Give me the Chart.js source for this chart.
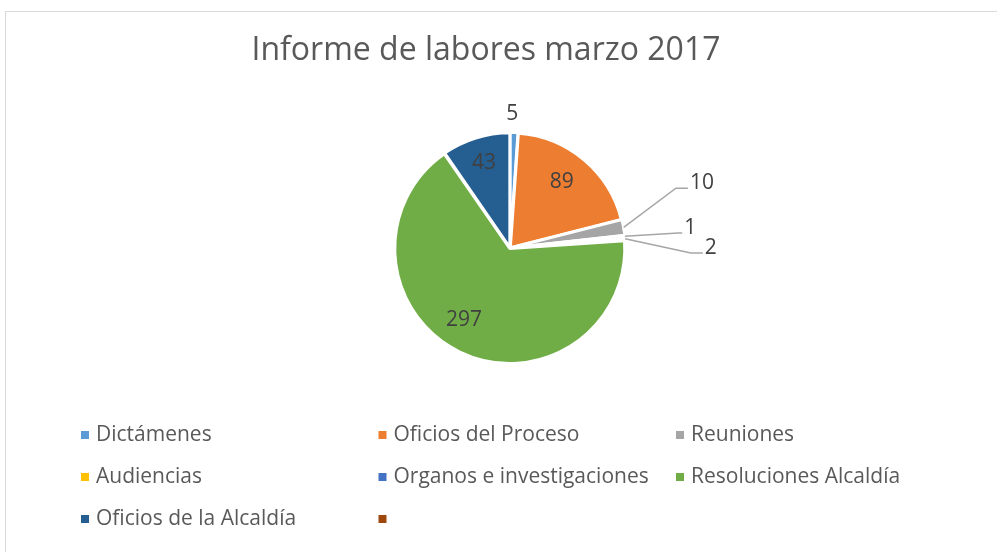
<!DOCTYPE html>
<html>
<head>
<meta charset="utf-8">
<script src="https://cdn.jsdelivr.net/npm/chart.js@4.4.1/dist/chart.umd.min.js"></script>
<style>
    html, body { margin: 0; padding: 0; background: #fff; }
    #frame { position: absolute; left: 5px; top: 11px; width: 1100px; height: 700px; border: 1px solid #d9d9d9; }
    #wrap { position: absolute; left: 0; top: 0; width: 997px; height: 552px; }
</style>
</head>
<body>
<div id="frame"></div>
<div id="wrap"><canvas id="laboresChart" width="997" height="552"></canvas></div>
<script>
const titleText = 'Informe de labores marzo 2017';
const categories = ['Dictámenes', 'Oficios del Proceso', 'Reuniones', 'Audiencias', 'Organos e investigaciones', 'Resoluciones Alcaldía', 'Oficios de la Alcaldía', ''];
const values = [5, 89, 10, 1, 2, 297, 43, null];
const colors = ['#5B9BD5', '#ED7D31', '#A5A5A5', '#FFC000', '#4472C4', '#70AD47', '#255E91', '#9E480E'];

// where each value label sits (angle in degrees from top, distance as fraction of radius)
const labelPlace = [
    { angle: 1, dist: 1.17 },
    { angle: 38.2, dist: 0.73 },
    { angle: 70.2, dist: 1.54, leader: true, tail: 12 },
    { angle: 84.9, dist: 1.475, leader: true, tail: 4 },
    { angle: 91.6, dist: 1.58, leader: true, tail: 12 },
    { angle: 212.6, dist: 0.745 },
    { angle: 343, dist: 0.775 },
    null
];

const FONT = "'Open Sans', sans-serif";
const TEXT = '#595959';

const extrasPlugin = {
    id: 'extras',
    afterDatasetsDraw(chart) {
        const ctx = chart.ctx;
        const arcs = chart.getDatasetMeta(0).data;
        ctx.save();
        // value labels
        arcs.forEach((arc, i) => {
            const place = labelPlace[i];
            if (!place || values[i] == null) return;
            const { x, y, outerRadius, startAngle, endAngle } = arc.getProps(['x', 'y', 'outerRadius', 'startAngle', 'endAngle'], true);
            const a = place.angle * Math.PI / 180 - Math.PI / 2;
            const px = x + Math.cos(a) * outerRadius * place.dist;
            const py = y + Math.sin(a) * outerRadius * place.dist;
            ctx.font = '21px ' + FONT;
            ctx.fillStyle = '#404040';
            if (place.leader) {
                const mid = (startAngle + endAngle) / 2;
                const sx = x + Math.cos(mid) * (outerRadius + 1);
                const sy = y + Math.sin(mid) * (outerRadius + 1);
                ctx.strokeStyle = '#a6a6a6';
                ctx.lineWidth = 1.5;
                ctx.beginPath();
                ctx.moveTo(sx, sy);
                ctx.lineTo(px, py);
                ctx.lineTo(px + place.tail, py);
                ctx.stroke();
                ctx.textAlign = 'left';
                ctx.textBaseline = 'middle';
                ctx.fillText(String(values[i]), px + place.tail + 2, py - 5);
            } else {
                ctx.textAlign = 'center';
                ctx.textBaseline = 'middle';
                ctx.fillText(String(values[i]), px, py);
            }
        });

        // title
        ctx.font = '32px ' + FONT;
        ctx.fillStyle = TEXT;
        ctx.textAlign = 'center';
        ctx.textBaseline = 'middle';
        ctx.fillText(titleText, 486, 51);

        // legend in three columns
        ctx.font = '21px ' + FONT;
        ctx.textAlign = 'left';
        categories.forEach((label, i) => {
            const col = i % 3;
            const row = Math.floor(i / 3);
            const bx = 81 + col * 297.5;
            const by = 435 + row * 42;
            ctx.fillStyle = colors[i];
            ctx.fillRect(bx, by - 4, 8, 8);
            ctx.fillStyle = TEXT;
            ctx.fillText(label, bx + 15, by);
        });
        ctx.restore();
    }
};

const config = {
    type: 'pie',
    data: {
        labels: categories,
        datasets: [{
            data: values,
            backgroundColor: colors,
            borderColor: '#ffffff',
            borderWidth: 3,
            offset: 2
        }]
    },
    options: {
        responsive: false,
        animation: false,
        layout: {
            padding: { left: 393, right: 370, top: 130, bottom: 186 }
        },
        plugins: {
            legend: { display: false },
            title: { display: false },
            tooltip: { enabled: false }
        }
    },
    plugins: [extrasPlugin]
};

const laboresChart = new Chart(document.getElementById('laboresChart'), config);
</script>
</body>
</html>
